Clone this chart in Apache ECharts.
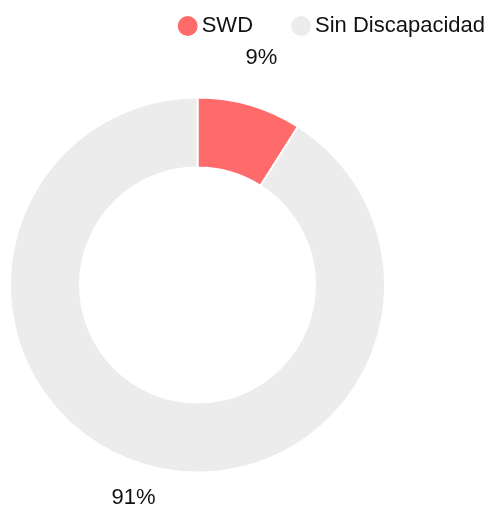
<!DOCTYPE html>
<html>
<head>
<meta charset="utf-8">
<script src="https://cdn.jsdelivr.net/npm/echarts@6/dist/echarts.min.js"></script>
<style>
  html, body { margin: 0; padding: 0; background: #fff; }
  #chart { width: 491px; height: 508px; }
</style>
</head>
<body>
<div id="chart"></div>
<script>
// data
var categories = ['SWD', 'Sin Discapacidad'];
var values = [9, 91];
var colors = ['#ff6b6b', '#ececec'];

var pieData = categories.map(function (name, i) {
    return { name: name, value: values[i], itemStyle: { color: colors[i] } };
});

var chart = echarts.init(document.getElementById('chart'));

var option = {
    animation: false,
    legend: {
        data: categories,
        right: 1,
        top: 9,
        icon: 'circle',
        itemWidth: 22,
        itemHeight: 22,
        itemGap: 36,
        textStyle: {
            fontFamily: 'Liberation Sans',
            fontSize: 22,
            color: '#111',
            padding: [0, 0, 0, -2]
        }
    },
    series: [
        {
            name: 'donut',
            type: 'pie',
            center: [197.5, 285],
            radius: [117.5, 187.5],
            startAngle: 90,
            clockwise: true,
            itemStyle: { borderColor: '#fff', borderWidth: 2 },
            label: { show: false },
            labelLine: { show: false },
            emphasis: { disabled: true },
            data: pieData
        },
        {
            // label ring only, nothing drawn
            name: 'labels',
            type: 'pie',
            center: [197.5, 285],
            radius: [216, 236],
            startAngle: 90,
            silent: true,
            itemStyle: { color: 'transparent', borderWidth: 0 },
            label: {
                show: true,
                position: 'inside',
                offset: [0, -7],
                fontFamily: 'Liberation Sans',
                fontSize: 22,
                color: '#111',
                formatter: function (p) { return Math.round(p.percent) + '%'; }
            },
            labelLine: { show: false },
            emphasis: { disabled: true },
            data: pieData.map(function (d) { return { name: d.name, value: d.value }; })
        }
    ]
};

chart.setOption(option);
</script>
</body>
</html>
